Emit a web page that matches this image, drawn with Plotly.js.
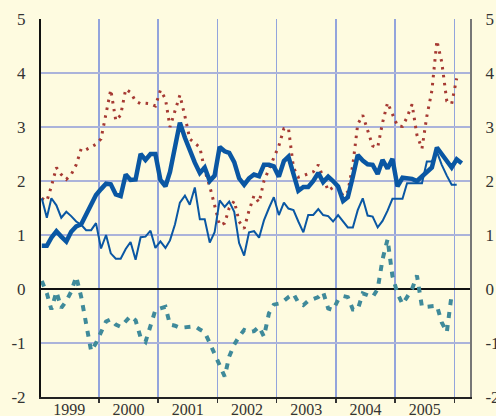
<!DOCTYPE html>
<html>
<head>
<meta charset="utf-8">
<script src="https://cdn.plot.ly/plotly-3.0.1.min.js"></script>
<style>
html,body{margin:0;padding:0;background:#fefbe0;}
#chart{width:496px;height:416px;}
</style>
</head>
<body>
<div id="chart"></div>
<script>
// Monthly observations starting January 1999
var startYear = 1999;

var thickLine = [0.80,0.80,0.95,1.07,0.97,0.88,1.06,1.16,1.20,1.38,1.52,1.74,
  1.85,1.95,1.94,1.75,1.72,2.12,2.02,2.03,2.50,2.39,2.50,2.50,
  2.02,1.90,2.17,2.65,3.08,2.80,2.56,2.34,2.15,2.25,2.00,2.10,
  2.63,2.55,2.52,2.35,2.05,1.93,2.05,2.12,2.09,2.30,2.30,2.27,
  2.08,2.37,2.45,2.10,1.82,1.89,1.89,2.00,2.15,1.98,2.08,2.00,
  1.90,1.63,1.70,2.08,2.48,2.38,2.31,2.30,2.13,2.39,2.23,2.41,
  1.90,2.06,2.05,2.04,2.00,2.08,2.18,2.25,2.62,2.50,2.36,2.25,
  2.40,2.33];

var thinLine = [1.68,1.32,1.68,1.55,1.32,1.43,1.35,1.25,1.19,1.09,1.09,1.22,
  0.75,1.00,0.66,0.56,0.56,0.74,0.87,0.54,0.96,0.97,1.08,0.76,
  0.88,0.76,0.90,1.20,1.60,1.73,1.56,1.88,1.29,1.29,0.86,1.05,
  1.64,1.52,1.62,1.43,0.85,0.62,1.05,1.07,0.95,1.27,1.50,1.70,
  1.37,1.60,1.49,1.46,1.25,1.05,1.37,1.37,1.48,1.37,1.35,1.25,
  1.37,1.25,1.14,1.14,1.46,1.68,1.36,1.34,1.14,1.26,1.45,1.67,
  1.67,1.67,1.96,1.96,1.96,1.96,2.36,2.36,2.54,2.30,2.10,1.93,
  1.93];

var dottedLine = [1.68,1.63,1.90,2.25,2.12,2.03,2.12,2.30,2.60,2.58,2.63,2.68,
  2.78,3.22,3.69,3.12,3.22,3.70,3.64,3.48,3.43,3.44,3.43,3.39,
  3.68,3.52,3.00,3.30,3.59,3.20,2.78,2.70,2.62,2.20,1.90,1.55,
  1.18,1.22,1.50,1.63,1.25,1.12,1.45,1.73,1.60,2.00,2.22,2.42,
  2.65,2.97,2.98,2.25,2.07,2.10,2.13,2.17,2.30,2.05,1.82,1.88,
  1.90,1.72,1.80,2.30,3.05,3.22,2.95,2.65,2.62,3.08,3.45,3.25,
  3.02,3.01,3.18,3.42,2.85,2.60,3.20,3.67,4.60,4.20,3.48,3.43,
  3.90];

var dashedLine = [0.15,-0.08,-0.38,-0.05,-0.35,-0.22,-0.05,0.23,-0.15,-0.65,-1.15,-1.00,
  -0.78,-0.60,-0.56,-0.66,-0.70,-0.60,-0.50,-0.58,-0.90,-0.98,-0.70,-0.39,
  -0.36,-0.33,-0.66,-0.68,-0.72,-0.71,-0.69,-0.69,-0.75,-0.80,-1.00,-1.20,
  -1.40,-1.62,-1.25,-1.03,-0.88,-0.76,-0.80,-0.78,-0.70,-0.88,-0.45,-0.29,
  -0.27,-0.22,-0.15,-0.09,-0.25,-0.30,-0.22,-0.18,-0.15,-0.06,-0.36,-0.39,
  -0.20,-0.13,-0.15,-0.38,-0.38,-0.08,-0.12,-0.15,0.00,0.55,0.92,0.24,
  -0.08,-0.28,-0.15,0.00,0.25,-0.33,-0.33,-0.32,-0.31,-0.62,-0.80,-0.10];

var yTicks = [-2,-1,0,1,2,3,4,5];

function monthDates(n){
  var out = [];
  for (var i = 0; i < n; i++){
    var y = startYear + Math.floor(i/12);
    var m = (i % 12) + 1;
    out.push(y + '-' + (m < 10 ? '0' + m : m) + '-15');
  }
  return out;
}

var blue = '#0a57a3';
var traces = [
  {x: monthDates(dottedLine.length), y: dottedLine, type:'scatter', mode:'lines',
   line:{color:'#a63a33', width:3, dash:'2.5px,5.5px'}, hoverinfo:'skip'},
  {x: monthDates(thinLine.length), y: thinLine, type:'scatter', mode:'lines',
   line:{color:blue, width:2}, hoverinfo:'skip'},
  {x: monthDates(thickLine.length), y: thickLine, type:'scatter', mode:'lines',
   line:{color:blue, width:4.5}, hoverinfo:'skip'},
  {x: monthDates(dashedLine.length), y: dashedLine, type:'scatter', mode:'lines', yaxis:'y2',
   line:{color:'#3f8a9a', width:4, dash:'6px,7px'}, hoverinfo:'skip'}
];

var font = {family:'"Liberation Serif", "Times New Roman", serif', size:17, color:'#333'};
var xfont = {family:'"Liberation Serif", "Times New Roman", serif', size:16, color:'#333'};

var layout = {
  width:496, height:416,
  margin:{l:41, r:26, t:19, b:19},
  paper_bgcolor:'#fefbe0', plot_bgcolor:'#fefbe0',
  showlegend:false,
  font:font,
  xaxis:{
    type:'date', range:['1999-01-10','2006-04-07'],
    tick0:'1999-01-01', dtick:'M12', tickformat:'%Y', ticklabelmode:'period',
    showgrid:true, gridcolor:'#93a4dc', gridwidth:1.5,
    ticks:'outside', ticklen:4, tickcolor:'#333', tickwidth:1.5,
    ticklabelstandoff:-7,
    showline:true, linecolor:'#222', linewidth:2,
    zeroline:false, tickfont:xfont, fixedrange:true
  },
  yaxis:{
    range:[-2,5], tickvals:yTicks, ticktext:yTicks.map(String),
    showgrid:true, gridcolor:'#abb3da', gridwidth:1.5,
    zeroline:true, zerolinecolor:'#111', zerolinewidth:2,
    showline:true, linecolor:'#111', linewidth:2,
    ticks:'outside', ticklen:10, tickcolor:'rgba(0,0,0,0)',
    tickfont:font, fixedrange:true
  },
  yaxis2:{
    range:[-2,5], tickvals:yTicks, ticktext:yTicks.map(String),
    overlaying:'y', side:'right',
    showgrid:false, zeroline:false,
    showline:true, linecolor:'#777', linewidth:2,
    ticks:'outside', ticklen:10, tickcolor:'rgba(0,0,0,0)',
    tickfont:font, fixedrange:true
  }
};

Plotly.newPlot('chart', traces, layout, {staticPlot:true, displayModeBar:false});
</script>
</body>
</html>
